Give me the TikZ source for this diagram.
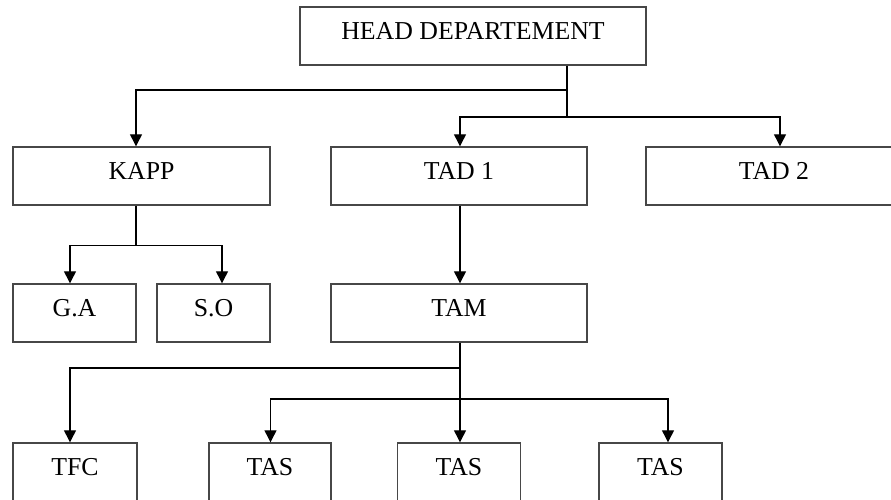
\documentclass[tikz,border=0pt]{standalone}
\usepackage{fontspec}
\setmainfont{Liberation Serif}
\usetikzlibrary{arrows.meta}
\tikzset{
	unit/.style={draw=black!72,line width=1.4pt,inner sep=0pt,text height=32pt,text depth=26pt,font=\fontsize{25.8}{30}\selectfont},
	link/.style={line width=1.2pt},
	arr/.style={link,-{Triangle[length=12pt,width=12pt]}}
}
\begin{document}
\begin{tikzpicture}[x=1pt,y=-1pt]
	\useasboundingbox (0,0) rectangle (891,499);
	\clip (0,0) rectangle (891,499);
	\node[unit,minimum width=346pt] (head) at (473,36) {HEAD DEPARTEMENT};
	\node[unit,minimum width=257pt] (kapp) at (141.5,176) {KAPP};
	\node[unit,minimum width=256pt] (tad1) at (459,176) {TAD 1};
	\node[unit,minimum width=256pt] (tad2) at (774,176) {TAD 2};
	\node[unit,minimum width=123pt] (ga) at (74.5,313) {G.A};
	\node[unit,minimum width=113pt] (so) at (213.5,313) {S.O};
	\node[unit,minimum width=256pt] (tam) at (459,313) {TAM};
	\node[unit,minimum width=124pt] (tfc) at (75,472) {TFC};
	\node[unit,minimum width=122pt] (tas1) at (270,472) {TAS};
	\node[unit,minimum width=123pt] (tas2) at (459,472) {TAS};
	\node[unit,minimum width=123pt] (tas3) at (660.5,472) {TAS};
	\coordinate (h1) at (567,90);
	\coordinate (h2) at (567,117);
	\draw[link] (head.south -| h1) -- (h2);
	\draw[arr] (h1) -| ([xshift=-5.5pt]kapp.north);
	\draw[arr] (h2) -| ([xshift=1pt]tad1.north);
	\draw[arr] (h2) -| ([xshift=6pt]tad2.north);
	\draw[link] ([xshift=-5.5pt]kapp.south) -- ++(0,40) coordinate (k1);
	\draw[arr] (k1) -| ([xshift=-4.5pt]ga.north);
	\draw[arr] (k1) -| ([xshift=8.5pt]so.north);
	\draw[arr] ([xshift=1pt]tad1.south) -- ([xshift=1pt]tam.north);
	\coordinate (m1) at (460,368);
	\coordinate (m2) at (460,399);
	\draw[arr] ([xshift=1pt]tam.south) -- ([xshift=1pt]tas2.north);
	\draw[arr] (m1) -| ([xshift=-5pt]tfc.north);
	\draw[arr] (m2) -| ([xshift=0.5pt]tas1.north);
	\draw[arr] (m2) -| ([xshift=7.5pt]tas3.north);
\end{tikzpicture}
\end{document}
